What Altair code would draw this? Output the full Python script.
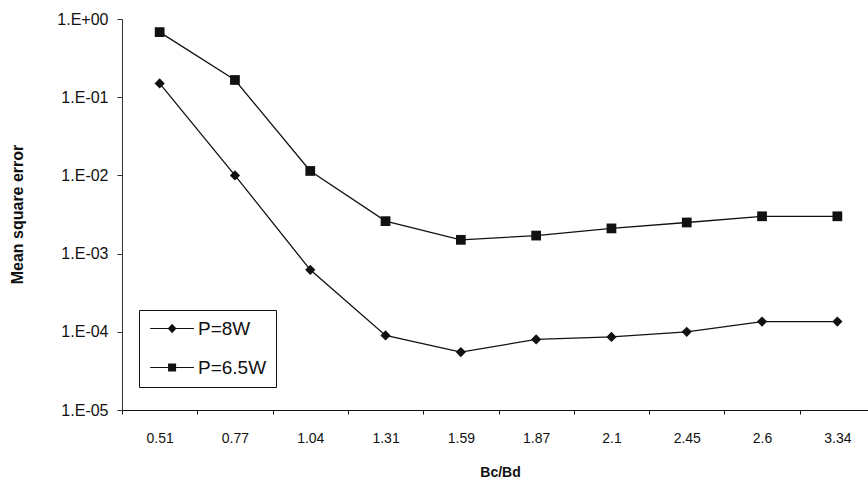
import altair as alt
import pandas as pd

categories = ["0.51", "0.77", "1.04", "1.31", "1.59", "1.87", "2.1", "2.45", "2.6", "3.34"]
p8w = [0.15, 0.010, 6.2e-4, 9.0e-5, 5.5e-5, 8.0e-5, 8.6e-5, 1.0e-4, 1.35e-4, 1.35e-4]
p65w = [0.68, 0.166, 0.0114, 2.6e-3, 1.5e-3, 1.7e-3, 2.1e-3, 2.5e-3, 3.0e-3, 3.0e-3]
series_names = ["P=8W", "P=6.5W"]
y_ticks = [1e-5, 1e-4, 1e-3, 1e-2, 1e-1, 1.0]

rows = []
for c, v in zip(categories, p8w):
    rows.append({"Bc/Bd": c, "mse": v, "series": series_names[0]})
for c, v in zip(categories, p65w):
    rows.append({"Bc/Bd": c, "mse": v, "series": series_names[1]})
df = pd.DataFrame(rows)

FONT = "Liberation Sans"

x_enc = alt.X(
    "Bc/Bd:N",
    sort=categories,
    bandPosition=0.5,
    scale=alt.Scale(type="band", paddingInner=0, paddingOuter=0, range=[0, 753]),
    axis=alt.Axis(
        title="Bc/Bd",
        labelAngle=0,
        tickBand="extent",
        tickSize=4,
        labelPadding=17,
        labelFontSize=14,
        labelFont=FONT,
        labelColor="#111",
        titleFont=FONT,
        titleFontSize=14,
        titleFontWeight="bold",
        titleColor="#111",
        titleX=378,
        titleY=66,
        titleBaseline="alphabetic",
        domainColor="#111",
        tickColor="#111",
        grid=False,
    ),
)
y_enc = alt.Y(
    "mse:Q",
    scale=alt.Scale(type="log", domain=[1e-5, 1], nice=False),
    axis=alt.Axis(
        title="Mean square error",
        values=y_ticks,
        labelExpr="datum.value >= 1 ? '1.E+00' : '1.E-0' + round(-log(datum.value)/LN10)",
        tickSize=5,
        labelPadding=9,
        labelFontSize=16,
        labelFont=FONT,
        labelColor="#111",
        titleFont=FONT,
        titleFontSize=16,
        titleFontWeight="bold",
        titleColor="#111",
        titleX=-100,
        titleY=195,
        titleAngle=-90,
        titleAlign="center",
        titleBaseline="alphabetic",
        domainColor="#333",
        tickColor="#333",
        grid=False,
    ),
)

base = alt.Chart(df)

lines = base.mark_line(color="#111", strokeWidth=1.3).encode(
    x=x_enc, y=y_enc, detail="series:N"
)
pts8 = base.transform_filter(alt.datum.series == series_names[0]).mark_point(
    shape="diamond", filled=True, color="#111", size=105, opacity=1
).encode(x=x_enc, y=y_enc)
pts65 = base.transform_filter(alt.datum.series == series_names[1]).mark_point(
    shape="square", filled=True, color="#111", size=95, opacity=1
).encode(x=x_enc, y=y_enc)

legend_layer = base.transform_filter("false").mark_point(
    filled=True, color="#111", opacity=1
).encode(
    x=x_enc,
    y=y_enc,
    shape=alt.Shape(
        "series:N",
        scale=alt.Scale(
            domain=series_names,
            range=[
                "M-1,-0.08H5V0.08H-1ZM2,-0.65L2.6,0L2,0.65L1.4,0Z",
                "M-1,-0.08H5V0.08H-1ZM1.45,-0.55H2.55V0.55H1.45Z",
            ],
        ),
        legend=alt.Legend(
            title=None,
            orient="none",
            legendX=17,
            legendY=291,
            strokeColor="#111",
            fillColor="white",
            padding=9,
            rowPadding=19,
            symbolSize=213,
            symbolFillColor="#111",
            symbolOpacity=1,
            labelOffset=31,
            labelFontSize=19,
            labelFont=FONT,
            labelColor="#111",
        ),
    ),
)

chart = (
    alt.layer(lines, pts8, pts65, legend_layer)
    .properties(
        width=746,
        height=391,
        autosize=alt.AutoSizeParams(type="none"),
        padding={"left": 122, "top": 19, "right": 0, "bottom": 73},
        background="white",
    )
    .configure_view(stroke=None)
)

chart.save("out.html", embed_options={"renderer": "svg", "actions": False})
